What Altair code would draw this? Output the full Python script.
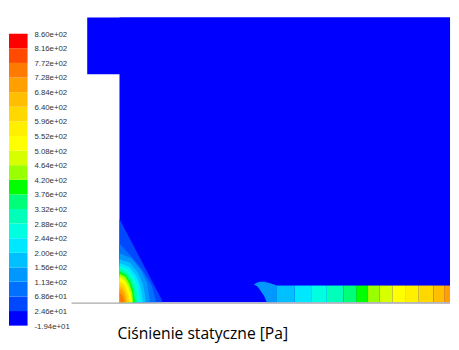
import altair as alt
import pandas as pd

# ---- colour bands (bottom -> top), Fluent-like banded rainbow ----
band_colors = [
    "#0000ff", "#0048ff", "#0070ff", "#0098ff", "#00c0ff",
    "#00e8ff", "#00ffe0", "#00ffb8", "#00ff78", "#00ff00",
    "#9aff00", "#d8ff00", "#ffff00", "#fff000", "#ffd800",
    "#ffbe00", "#ffa000", "#ff7a00", "#ff4a00", "#ff0000",
]
legend_values = [-19.4, 24.6, 68.6, 113, 156, 200, 244, 288, 332, 376, 420,
                 464, 508, 552, 596, 640, 684, 728, 772, 816, 860]
legend_labels = ["-1.94e+01", "2.46e+01", "6.86e+01", "1.13e+02", "1.56e+02",
                 "2.00e+02", "2.44e+02", "2.88e+02", "3.32e+02", "3.76e+02",
                 "4.20e+02", "4.64e+02", "5.08e+02", "5.52e+02", "5.96e+02",
                 "6.40e+02", "6.84e+02", "7.28e+02", "7.72e+02", "8.16e+02",
                 "8.60e+02"]

# ---- flow domain (two rectangles: inlet step + main chamber) ----
dom_x = [-33, 0]
dom_x2 = [338, 338]
dom_y = [233, 0]
dom_y2 = [291, 291]

# ---- contours in the corner at the wall (band index, outline) ----
corner_levels = [1, 2, 3, 4, 5, 6, 7, 8, 9, 10, 11, 12, 13, 14, 15, 16, 17]
corner_x = [
    [0, 11, 22, 33, 42, 44],
    [0, 12, 24, 33, 36, 37],
    [0, 12, 22, 28, 30, 31],
    [0, 11, 19, 24, 26, 27],
    [0, 10, 17, 21, 23, 24],
    [0, 9, 15, 19, 20, 21],
    [0, 8, 13, 17, 18, 19],
    [0, 7, 12, 15, 16, 17],
    [0, 6, 11, 14, 15, 16],
    [0, 6, 10, 13, 14],
    [0, 5, 9, 12, 13],
    [0, 5, 8, 11, 12],
    [0, 4, 8, 10, 11],
    [0, 4, 7, 9, 10],
    [0, 3, 6, 7, 8],
    [0, 3, 5, 6, 7],
    [0, 2, 4, 5],
]
corner_y = [
    [85, 64, 43, 22, 5, 0],
    [60, 47, 32, 17, 6, 0],
    [50, 45, 33, 20, 8, 0],
    [44, 40, 30, 18, 7, 0],
    [40, 36, 27, 17, 6, 0],
    [37, 33, 25, 15, 6, 0],
    [35, 31, 24, 14, 5, 0],
    [33, 29, 22, 13, 5, 0],
    [31, 28, 21, 12, 5, 0],
    [29, 26, 19, 10, 0],
    [27, 24, 17, 9, 0],
    [25, 22, 16, 8, 0],
    [22, 20, 14, 7, 0],
    [20, 18, 12, 6, 0],
    [17, 15, 10, 5, 0],
    [14, 12, 8, 4, 0],
    [10, 8, 5, 0],
]

# ---- small curl before the outlet strip ----
blob_level = 3
blob_x = [137, 141, 144, 148, 151, 155, 161]
blob_top = [18, 20, 21, 21, 20, 19, 17]
blob_bottom = [18, 16, 12, 6, 0, 0, 0]

# ---- banded strip along the bottom wall ----
strip_x = [161, 179, 196, 212, 229, 242, 254, 266, 279, 292, 306, 321, 332]
strip_x2 = [179, 196, 212, 229, 242, 254, 266, 279, 292, 306, 321, 332, 338]
strip_level = [4, 5, 6, 7, 8, 9, 10, 11, 12, 13, 14, 15, 16]
strip_top = 17

TITLE = "Ciśnienie statyczne [Pa]"

# ================= plot panel =================
XS = alt.Scale(domain=[-49, 338], nice=False, zero=False)
YS = alt.Scale(domain=[-37, 291], nice=False, zero=False)
PW, PH = 387, 328


def X(f):
    return alt.X(f, type="quantitative", scale=XS, axis=None)


def Y(f):
    return alt.Y(f, type="quantitative", scale=YS, axis=None)


dom_df = pd.DataFrame({"x": dom_x, "x2": dom_x2, "y": dom_y, "y2": dom_y2})
domain = alt.Chart(dom_df).mark_rect(color=band_colors[0], strokeWidth=0).encode(
    x=X("x"), x2="x2", y=Y("y"), y2="y2"
)

layers = [domain]
for lvl, xs, ys in zip(corner_levels, corner_x, corner_y):
    df = pd.DataFrame({"x": xs, "y": ys, "b": [0] * len(xs)})
    layers.append(
        alt.Chart(df).mark_area(color=band_colors[lvl], orient="vertical").encode(
            x=X("x"), y=Y("y"), y2="b"
        )
    )

blob_df = pd.DataFrame({"x": blob_x, "y": blob_top, "b": blob_bottom})
layers.append(
    alt.Chart(blob_df).mark_area(color=band_colors[blob_level], orient="vertical",
                                 interpolate="monotone").encode(
        x=X("x"), y=Y("y"), y2="b"
    )
)

strip_df = pd.DataFrame({
    "x": strip_x, "x2": strip_x2,
    "y": [0] * len(strip_x), "y2": [strip_top] * len(strip_x),
    "c": [band_colors[i] for i in strip_level],
})
layers.append(
    alt.Chart(strip_df).mark_rect(strokeWidth=0).encode(
        x=X("x"), x2="x2", y=Y("y"), y2="y2",
        color=alt.Color("c:N", scale=None, legend=None),
    )
)

base_df = pd.DataFrame({"x": [-49], "x2": [338], "y": [-1]})
layers.append(
    alt.Chart(base_df).mark_rule(color="#a8a8a8", strokeWidth=1.2).encode(
        x=X("x"), x2="x2", y=Y("y")
    )
)

title_df = pd.DataFrame({"t": [TITLE]})
layers.append(
    alt.Chart(title_df).mark_text(
        align="left", baseline="alphabetic", font="Open Sans", fontSize=16,
        color="#000000",
    ).encode(x=alt.value(47), y=alt.value(329), text="t:N")
)

plot = alt.layer(*layers).properties(width=PW, height=PH)

# ================= legend panel =================
LS = alt.Scale(domain=[-57.7, 908.6], nice=False, zero=False)
leg_df = pd.DataFrame({
    "lo": legend_values[:-1], "hi": legend_values[1:], "c": band_colors,
})
bar = alt.Chart(leg_df).mark_rect(strokeWidth=0).encode(
    x=alt.value(1), x2=alt.value(20),
    y=alt.Y("lo:Q", scale=LS, axis=None), y2="hi:Q",
    color=alt.Color("c:N", scale=None, legend=None),
)
lab_df = pd.DataFrame({"v": legend_values, "t": legend_labels})
labels = alt.Chart(lab_df).mark_text(
    align="left", baseline="middle", dy=1,
    font="'Liberation Sans Narrow', 'Liberation Sans', sans-serif",
    fontSize=8, color="#333333",
).encode(x=alt.value(27), y=alt.Y("v:Q", scale=LS, axis=None), text="t:N")

legend = alt.layer(bar, labels).properties(width=64, height=PH)

chart = alt.hconcat(legend, plot, spacing=0).properties(
    padding={"left": 0, "top": 6, "right": 0, "bottom": 0},
    background="white",
).configure_view(stroke=None)

chart.save("out.html", embed_options={"renderer": "svg", "actions": False})
